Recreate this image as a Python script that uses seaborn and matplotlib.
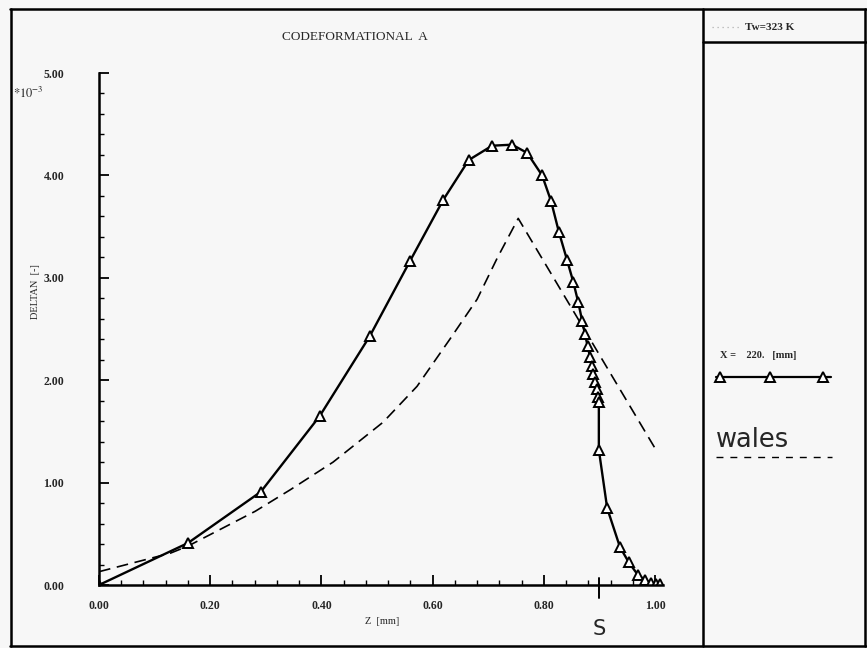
import matplotlib
matplotlib.use("Agg")
import matplotlib.pyplot as plt
import seaborn as sns
import pandas as pd
from matplotlib.lines import Line2D
from matplotlib.ticker import MultipleLocator, FormatStrFormatter

# ---- data ----
z_solid = [0.000, 0.160, 0.291, 0.397, 0.487, 0.559, 0.619, 0.665, 0.707, 0.743,
           0.770, 0.797, 0.813, 0.827, 0.842, 0.853, 0.862, 0.869, 0.874, 0.879,
           0.883, 0.887, 0.888, 0.892, 0.896, 0.897, 0.899, 0.899, 0.914, 0.937,
           0.953, 0.969, 0.982, 0.993, 1.002, 1.009]
d_solid = [0.00, 0.41, 0.91, 1.65, 2.43, 3.16, 3.76, 4.15, 4.29, 4.30,
           4.22, 4.00, 3.75, 3.45, 3.17, 2.96, 2.76, 2.58, 2.45, 2.33,
           2.23, 2.14, 2.06, 1.98, 1.91, 1.84, 1.79, 1.32, 0.75, 0.37,
           0.22, 0.10, 0.05, 0.02, 0.01, 0.01]

z_dash = [0.000, 0.128, 0.160, 0.281, 0.344, 0.421, 0.511, 0.572, 0.631, 0.680,
          0.716, 0.754, 1.005]
d_dash = [0.13, 0.31, 0.38, 0.72, 0.93, 1.20, 1.59, 1.94, 2.40, 2.79,
          3.19, 3.58, 1.29]

x_ticks = [0.0, 0.2, 0.4, 0.6, 0.8, 1.0]
y_ticks = [0.0, 1.0, 2.0, 3.0, 4.0, 5.0]
s_position = 0.9

title_text = "CODEFORMATIONAL  A"
xlabel_text = "Z  [mm]"
ylabel_text = "DELTAN  [-]"
legend_top = "Tw=323 K"
legend_series = "X =    220.   [mm]"

df_solid = pd.DataFrame({"z": z_solid, "d": d_solid})
df_dash = pd.DataFrame({"z": z_dash, "d": d_dash})

# ---- figure ----
sns.set_style("white")
plt.rcParams["font.family"] = ["Liberation Serif", "DejaVu Serif"]
plt.rcParams["mathtext.fontset"] = "stix"
W, H = 867, 648
BG = "#f7f7f7"
fig = plt.figure(figsize=(W / 100, H / 100), dpi=100, facecolor=BG)

def fx(px):
    return px / W

def fy(py):
    return 1 - py / H

ax_left, ax_right, ax_top, ax_bot = 99, 663, 73, 585
ax = fig.add_axes([fx(ax_left), fy(ax_bot), (ax_right - ax_left) / W, (ax_bot - ax_top) / H])
ax.set_facecolor(BG)

sns.lineplot(data=df_dash, x="z", y="d", ax=ax, sort=False, estimator=None,
             color="black", linewidth=1.2, dashes=False, linestyle=(0, (7, 4)))
sns.lineplot(data=df_solid, x="z", y="d", ax=ax, sort=False, estimator=None,
             color="black", linewidth=1.7, marker="^", markersize=7,
             markerfacecolor="white", markeredgecolor="black", markeredgewidth=1.4)

ax.set_xlim(0.0, (ax_right - ax_left) / 556)
ax.set_ylim(0.0, 5.0)
ax.set_xticks(x_ticks)
ax.set_yticks(y_ticks)
ax.xaxis.set_minor_locator(MultipleLocator(0.04))
ax.yaxis.set_minor_locator(MultipleLocator(0.2))
ax.xaxis.set_major_formatter(FormatStrFormatter("%.2f"))
ax.yaxis.set_major_formatter(FormatStrFormatter("%.2f"))
ax.tick_params(axis="both", which="both", bottom=True, left=True, top=False, right=False)
ax.tick_params(axis="both", which="major", direction="in", length=7, width=1.3,
               labelsize=8.5, color="black")
ax.tick_params(axis="both", which="minor", direction="in", length=3.5, width=1.0,
               color="black")
ax.tick_params(axis="x", which="major", pad=11)
ax.tick_params(axis="y", which="major", pad=25)
for lab in ax.get_xticklabels() + ax.get_yticklabels():
    lab.set_fontweight("bold")
for s in ["top", "right"]:
    ax.spines[s].set_visible(False)
for s in ["left", "bottom"]:
    ax.spines[s].set_linewidth(1.8)
    ax.spines[s].set_color("black")
ax.set_xlabel("")
ax.set_ylabel("")

# S marker on the x-axis
sx = s_position
ax.plot([sx, sx], [-0.13, 0.07], color="black", lw=1.4, clip_on=False)
ax.text(sx, -0.43, "S", ha="center", va="center", fontsize=15,
        family=["DejaVu Sans"], transform=ax.transData)

# texts
fig.text(fx(355), fy(37), title_text, ha="center", va="center", fontsize=9.5)
fig.text(fx(382), fy(621), xlabel_text, ha="center", va="center", fontsize=7.5)
fig.text(fx(36), fy(292), ylabel_text, ha="center", va="center", fontsize=7.5,
         rotation=90)
fig.text(fx(13), fy(93), r"$*10^{-3}$", ha="left", va="center", fontsize=9)

# frame
frame_kw = dict(color="black", lw=1.8, transform=fig.transFigure)
fig.add_artist(Line2D([fx(10), fx(866)], [fy(9), fy(9)], **frame_kw))
fig.add_artist(Line2D([fx(10), fx(866)], [fy(646), fy(646)], **frame_kw))
fig.add_artist(Line2D([fx(11), fx(11)], [fy(9), fy(646)], **frame_kw))
fig.add_artist(Line2D([fx(865), fx(865)], [fy(9), fy(646)], **frame_kw))
fig.add_artist(Line2D([fx(703), fx(703)], [fy(9), fy(646)], **frame_kw))
fig.add_artist(Line2D([fx(703), fx(866)], [fy(42), fy(42)], **frame_kw))

# top-right legend entry
fig.add_artist(Line2D([fx(712), fx(742)], [fy(27), fy(27)], color="#b0b0b0", lw=0.9,
                      linestyle=(0, (1, 3)), transform=fig.transFigure))
fig.text(fx(745), fy(27), legend_top, ha="left", va="center", fontsize=8,
         fontweight="bold")

# series legend
fig.text(fx(720), fy(356), legend_series, ha="left", va="center", fontsize=7.5,
         fontweight="bold")
fig.add_artist(Line2D([fx(716), fx(831)], [fy(377), fy(377)], color="black", lw=1.6,
                      transform=fig.transFigure))
fig.add_artist(Line2D([fx(720), fx(770), fx(823)], [fy(377)] * 3, color="none",
                      marker="^", markersize=7, markerfacecolor="white",
                      markeredgecolor="black", markeredgewidth=1.4,
                      transform=fig.transFigure))

# handwritten note
fig.text(fx(716), fy(440), "wales", ha="left", va="center", fontsize=18.5,
         family=["DejaVu Sans"], fontweight="normal")
fig.add_artist(Line2D([fx(716), fx(832)], [fy(457), fy(457)], color="black", lw=1.0,
                      linestyle=(0, (5, 5)), transform=fig.transFigure))

fig.savefig("out.png", dpi=100, facecolor=BG)
